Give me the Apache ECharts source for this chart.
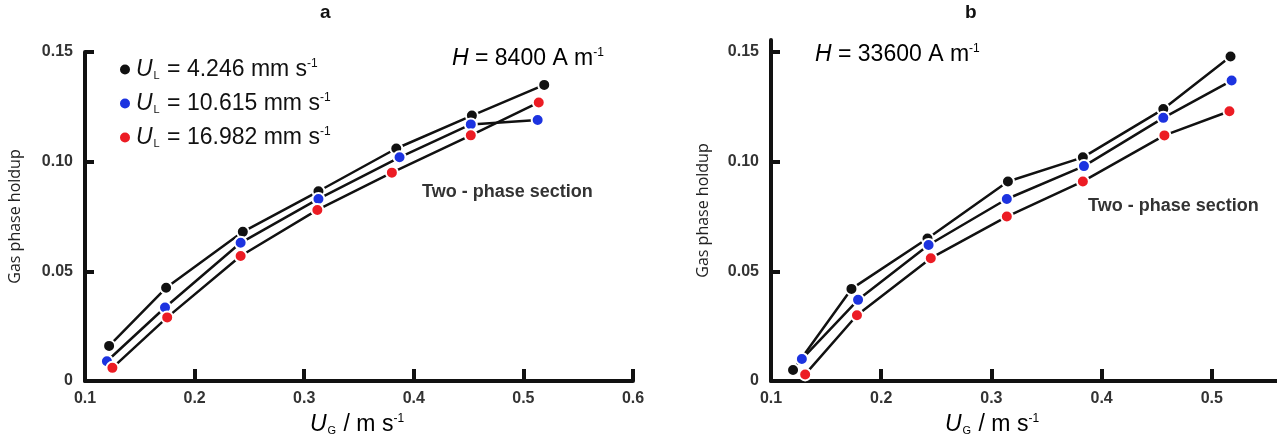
<!DOCTYPE html>
<html><head><meta charset="utf-8">
<script src="https://cdn.jsdelivr.net/npm/echarts@6/dist/echarts.min.js"></script>
<style>html,body{margin:0;padding:0;background:#fff}#c{width:1277px;height:441px}</style>
</head><body><div id="c"></div>
<script>
// Panel a: H = 8400 A/m
const aX_black = [0.122, 0.174, 0.244, 0.313, 0.384, 0.453, 0.519];
const aY_black = [0.016, 0.0425, 0.068, 0.0865, 0.106, 0.121, 0.135];
const aX_blue  = [0.120, 0.173, 0.242, 0.313, 0.387, 0.452, 0.513];
const aY_blue  = [0.009, 0.0335, 0.063, 0.083, 0.102, 0.117, 0.119];
const aX_red   = [0.125, 0.175, 0.242, 0.312, 0.380, 0.452, 0.514];
const aY_red   = [0.006, 0.029, 0.057, 0.078, 0.095, 0.112, 0.127];
// Panel b: H = 33600 A/m
const bX_black = [0.120, 0.173, 0.242, 0.315, 0.383, 0.456, 0.517];
const bY_black = [0.005, 0.042, 0.065, 0.091, 0.102, 0.124, 0.148];
const bX_blue  = [0.128, 0.179, 0.243, 0.314, 0.384, 0.456, 0.518];
const bY_blue  = [0.010, 0.037, 0.062, 0.083, 0.098, 0.120, 0.137];
const bX_red   = [0.131, 0.178, 0.245, 0.314, 0.383, 0.457, 0.516];
const bY_red   = [0.003, 0.030, 0.056, 0.075, 0.091, 0.112, 0.123];

const seriesNames = ['4.246', '10.615', '16.982'];
const seriesColors = ['#111111', '#1c33e0', '#ec1c24'];
const yTicks = [0, 0.05, 0.10, 0.15];
const aXTicks = [0.1, 0.2, 0.3, 0.4, 0.5, 0.6];
const bXTicks = [0.1, 0.2, 0.3, 0.4, 0.5, 0.6];
const panelTitles = ['a', 'b'];
const fieldLabels = ['8400', '33600'];
const sectionLabel = 'Two - phase section';
const yName = 'Gas phase holdup';

const zip = (xs, ys) => xs.map((x, i) => [x, ys[i]]);
const panels = [
  [zip(aX_black, aY_black), zip(aX_blue, aY_blue), zip(aX_red, aY_red)],
  [zip(bX_black, bY_black), zip(bX_blue, bY_blue), zip(bX_red, bY_red)]
];

const F = 'Liberation Sans, Arial, sans-serif';
const rich = {
  n: {fontFamily: F, fontSize: 23, color: '#111'},
  i: {fontFamily: F, fontSize: 23, fontStyle: 'italic', color: '#111'},
  sub: {fontFamily: F, fontSize: 11, color: '#111', verticalAlign: 'bottom', padding: [0, 1, 0, 1]},
  sup: {fontFamily: F, fontSize: 12, color: '#111', verticalAlign: 'top'}
};

const fmtTick = v => v === 0 ? '0' : v.toFixed(2);
function yAxis(idx, max) {
  return {
    type: 'value', gridIndex: idx, min: 0, max: max, interval: 0.05,
    name: yName, nameLocation: 'middle', nameGap: idx === 0 ? 62 : 60,
    nameTextStyle: {fontFamily: 'Open Sans, sans-serif', fontSize: 16, color: '#222'},
    splitLine: {show: false},
    axisLine: {show: true, lineStyle: {color: '#111', width: 4}},
    axisTick: {show: true, inside: true, length: 9, lineStyle: {color: '#111', width: 4}, customValues: yTicks},
    axisLabel: {margin: 12, fontFamily: F, fontWeight: 'bold', fontSize: 16, color: '#333', formatter: fmtTick, customValues: yTicks}
  };
}
function xAxis(idx, ticks) {
  return {
    type: 'value', gridIndex: idx, min: 0.1, max: 0.6, interval: 0.1,
    splitLine: {show: false},
    axisLine: {show: true, onZero: false, lineStyle: {color: '#111', width: 4}},
    axisTick: {show: true, inside: true, length: 12, lineStyle: {color: '#111', width: 4}, customValues: ticks},
    axisLabel: {margin: 10, fontFamily: F, fontWeight: 'bold', fontSize: 16, color: '#333', formatter: v => v.toFixed(1), customValues: ticks}
  };
}

const series = [];
panels.forEach((p, pi) => {
  p.forEach((data, si) => {
    series.push({
      type: 'line', name: pi === 0 ? seriesNames[si] : 'b' + seriesNames[si],
      xAxisIndex: pi, yAxisIndex: pi, data: data,
      symbol: 'circle', symbolSize: 12,
      lineStyle: {color: '#111', width: 2.5},
      itemStyle: {color: seriesColors[si], borderColor: '#fff', borderWidth: 2},
      z: 2 + si, animation: false
    });
  });
});

const chart = echarts.init(document.getElementById('c'), null, {renderer: 'canvas'});
chart.setOption({
  backgroundColor: '#fff',
  animation: false,
  grid: [
    {left: 85, width: 548, top: 52, bottom: 60, outerBoundsMode: 'none', containLabel: false},
    {left: 771, width: 551, top: 40, bottom: 60, outerBoundsMode: 'none', containLabel: false}
  ],
  xAxis: [xAxis(0, aXTicks), xAxis(1, bXTicks)],
  yAxis: [yAxis(0, 0.15), yAxis(1, 0.1555)],
  legend: {
    data: seriesNames, orient: 'vertical', left: 113, top: 53, itemGap: 11,
    icon: 'circle', itemWidth: 12, itemHeight: 12,
    formatter: n => '{i|U}{sub|L}{n| = ' + n + ' mm s}{sup|-1}',
    textStyle: {rich: rich}
  },
  graphic: [
    {type: 'text', left: 320, top: 3, style: {text: panelTitles[0], font: 'bold 19px ' + F, fill: '#111'}},
    {type: 'text', left: 965, top: 3, style: {text: panelTitles[1], font: 'bold 19px ' + F, fill: '#111'}},
    {type: 'text', left: 452, top: 47, style: {text: '{i|H}{n| = ' + fieldLabels[0] + ' A m}{sup|-1}', rich: rich}},
    {type: 'text', left: 815, top: 43, style: {text: '{i|H}{n| = ' + fieldLabels[1] + ' A m}{sup|-1}', rich: rich}},
    {type: 'text', left: 422, top: 183, style: {text: sectionLabel, font: 'bold 18px ' + F, fill: '#333'}},
    {type: 'text', left: 1088, top: 197, style: {text: sectionLabel, font: 'bold 18px ' + F, fill: '#333'}},
    {type: 'text', left: 310, top: 413, style: {text: '{i|U}{sub|G}{n| / m s}{sup|-1}', rich: rich}},
    {type: 'text', left: 945, top: 413, style: {text: '{i|U}{sub|G}{n| / m s}{sup|-1}', rich: rich}}
  ],
  series: series
});
</script>
</body></html>
